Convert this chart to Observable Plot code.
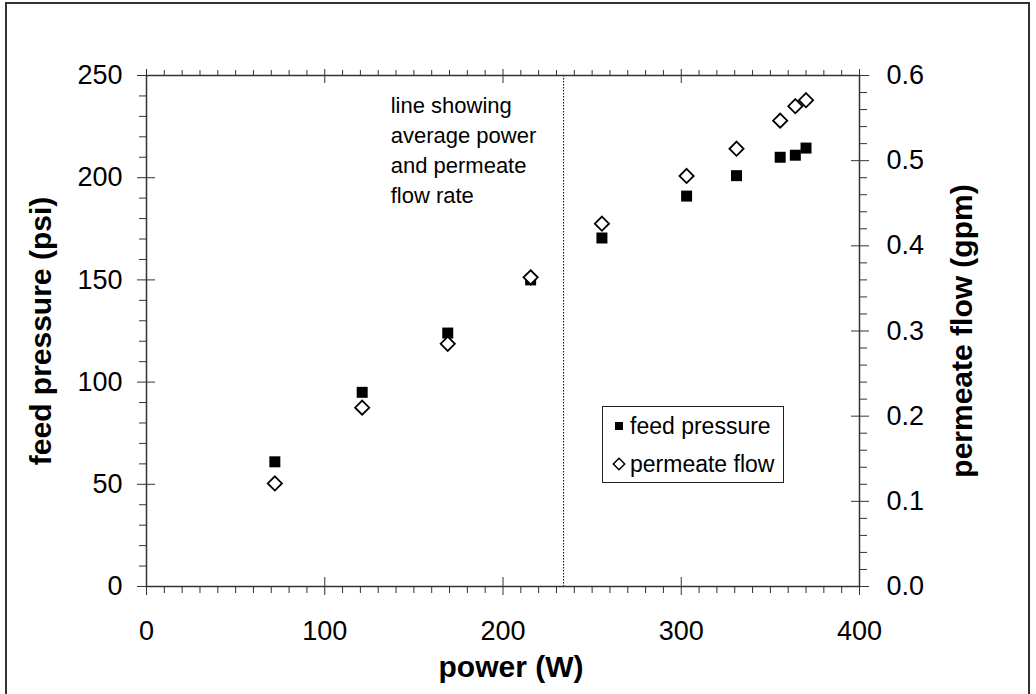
<!DOCTYPE html>
<html>
<head>
<meta charset="utf-8">
<script src="https://cdn.jsdelivr.net/npm/d3@7"></script>
<script src="https://cdn.jsdelivr.net/npm/@observablehq/plot@0.6"></script>
<style>
  html, body { margin: 0; padding: 0; background: #fff; }
  #wrap { position: relative; width: 1036px; height: 694px; overflow: hidden; font-family: "Liberation Sans", Arial, sans-serif; }
  #border { position: absolute; left: 5px; top: 2px; width: 1025px; height: 720px; border: 2px solid #333; box-sizing: border-box; }
  #chart { position: absolute; left: 0; top: 0; }
  #legend { position: absolute; left: 602px; top: 406px; width: 182px; height: 77px; border: 1.5px solid #222; background: #fff; box-sizing: border-box; font-size: 23px; color: #000; }
  .row { position: absolute; left: 0; height: 26px; display: flex; align-items: center; white-space: nowrap; }
  .row svg { margin-left: 9px; margin-right: 4px; }
</style>
</head>
<body>
<div id="wrap">
  <div id="border"></div>
  <div id="chart"></div>
  <div id="legend"></div>
</div>
<script>
// ---- data ----
const power        = [72, 121, 169, 215.5, 255.5, 303, 331, 355.5, 364, 370];
const feedPressure = [61, 95, 124, 150, 170.5, 191, 201, 210, 211, 214.5];
const permeateFlow = [0.121, 0.210, 0.285, 0.363, 0.426, 0.482, 0.514, 0.547, 0.564, 0.571];

const avgPower = 234;                       // dotted vertical line
const xMajor = [0, 100, 200, 300, 400];
const yMajor = [0, 50, 100, 150, 200, 250];
const flowMajor = [0, 0.1, 0.2, 0.3, 0.4, 0.5, 0.6];
const noteText = "line showing\naverage power\nand permeate\nflow rate";
const noteX = 137, noteY = 242;
const legendItems = ["feed pressure", "permeate flow"];

// ---- helpers ----
const k = 250 / 0.6; // permeate flow -> pressure scale
const rows = power.map((p, i) => ({power: p, pressure: feedPressure[i], flow: permeateFlow[i]}));
const minorTicks = (a, b, s, majors) =>
  d3.range(a, b + s / 2, s).map(v => +v.toFixed(6)).filter(v => !majors.some(m => Math.abs(m - v) < 1e-9));
const xMinor = minorTicks(0, 400, 10, xMajor);
const yMinor = minorTicks(0, 250, 10, yMajor);
const fMinor = minorTicks(0, 0.6, 0.02, flowMajor).map(v => v * k);
const fMajor = flowMajor.map(v => v * k);
const tickStroke = "#333";

const chart = Plot.plot({
  width: 1036,
  height: 694,
  marginLeft: 146,
  marginRight: 177,
  marginTop: 75,
  marginBottom: 108,
  style: {fontFamily: "'Liberation Sans', Arial, sans-serif", fontSize: "27px", color: "#000", background: "transparent", overflow: "visible"},
  x: {domain: [0, 400], axis: null, label: null},
  y: {domain: [0, 250], axis: null, label: null},
  marks: [
    Plot.ruleX([avgPower], {stroke: "#000", strokeWidth: 1, strokeDasharray: "1.5,1.5"}),
    // bottom axis
    Plot.axisX({anchor: "bottom", ticks: xMinor, tickSize: 7, fill: "none", stroke: tickStroke, label: null}),
    Plot.axisX({anchor: "bottom", ticks: xMajor, tickSize: 18, dy: -9, fill: "none", stroke: tickStroke, label: null}),
    Plot.axisX({anchor: "bottom", ticks: xMajor, tickSize: 0, tickPadding: 34, fontSize: 27, label: null, tickFormat: d => String(d)}),
    // top axis (ticks only)
    Plot.axisX({anchor: "top", ticks: xMinor, tickSize: 6, fill: "none", stroke: tickStroke, label: null}),
    Plot.axisX({anchor: "top", ticks: xMajor, tickSize: 14, dy: 7, fill: "none", stroke: tickStroke, label: null}),
    // left axis
    Plot.axisY({anchor: "left", ticks: yMinor, tickSize: 7, fill: "none", stroke: tickStroke, label: null}),
    Plot.axisY({anchor: "left", ticks: yMajor, tickSize: 18, dx: 9, fill: "none", stroke: tickStroke, label: null}),
    Plot.axisY({anchor: "left", ticks: yMajor, tickSize: 0, tickPadding: 24, fontSize: 27, label: null, tickFormat: d => String(d)}),
    // right axis (permeate flow)
    Plot.axisY({anchor: "right", ticks: fMinor, tickSize: 7, fill: "none", stroke: tickStroke, label: null}),
    Plot.axisY({anchor: "right", ticks: fMajor, tickSize: 18, dx: -9, fill: "none", stroke: tickStroke, label: null}),
    Plot.axisY({anchor: "right", ticks: fMajor, tickSize: 0, tickPadding: 27, fontSize: 27, label: null, tickFormat: d => (d / k).toFixed(1)}),
    Plot.frame({stroke: "#333", strokeWidth: 1.5}),
    // data
    Plot.dot(rows, {x: "power", y: "pressure", symbol: "square", r: 6.2, fill: "#000", stroke: "none"}),
    Plot.dot(rows, {x: "power", y: d => d.flow * k, symbol: "diamond2", r: 6.4, fill: "#fff", stroke: "#000", strokeWidth: 1.8}),
    // annotation
    Plot.text([noteText], {x: noteX, y: noteY, textAnchor: "start", lineAnchor: "top", lineHeight: 1.36, fontSize: 22, fill: "#000"}),
    // axis titles
    Plot.text(["feed pressure (psi)"], {frameAnchor: "left", textAnchor: "middle", dx: -105, rotate: -90, fontWeight: "bold", fontSize: 30, fill: "#000"}),
    Plot.text(["permeate flow (gpm)"], {frameAnchor: "right", textAnchor: "middle", dx: 103, rotate: -90, fontWeight: "bold", fontSize: 30, fill: "#000"}),
    Plot.text(["power (W)"], {frameAnchor: "bottom", textAnchor: "middle", dx: 8, dy: 90, fontWeight: "bold", fontSize: 30, fill: "#000"})
  ]
});
document.getElementById("chart").append(chart);

// ---- legend (inside plot area) ----
const legend = document.getElementById("legend");
const symbols = [
  '<svg width="14" height="14" viewBox="-7 -7 14 14"><rect x="-4" y="-4" width="8" height="8" fill="#000"/></svg>',
  '<svg width="14" height="14" viewBox="-7 -7 14 14"><path d="M0,-5.7L5.7,0L0,5.7L-5.7,0Z" fill="#fff" stroke="#000" stroke-width="1.5"/></svg>'
];
legendItems.forEach((label, i) => {
  const row = document.createElement("div");
  row.className = "row";
  row.style.top = (i === 0 ? 6 : 44) + "px";
  row.innerHTML = symbols[i] + "<span>" + label + "</span>";
  legend.append(row);
});
</script>
</body>
</html>
